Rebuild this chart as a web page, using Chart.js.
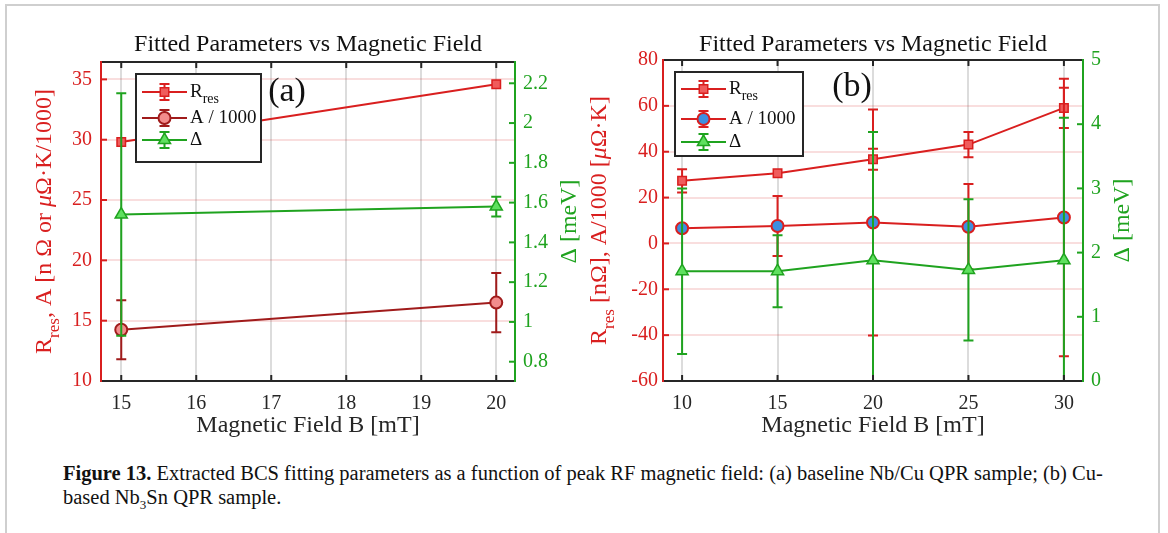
<!DOCTYPE html>
<html>
<head>
<meta charset="utf-8">
<script src="https://cdn.jsdelivr.net/npm/chart.js@4.4.1/dist/chart.umd.min.js"></script>
<style>
  body { margin: 0; background: #fff; width: 1168px; height: 533px; overflow: hidden; position: relative; font-family: "Liberation Serif", serif; }
  .frame { position: absolute; left: 5px; top: 4px; width: 1151px; height: 600px; border: 2px solid #cfcfcf; }
  .panel { position: absolute; top: 0; }
  #panelA { left: 0; }
  #panelB { left: 580px; }
  .caption { position: absolute; left: 63px; top: 461px; font-size: 20.5px; line-height: 24px; color: #111; white-space: nowrap; }
  .caption sub { font-size: 13px; line-height: 0; }
</style>
</head>
<body>
<div class="frame"></div>
<canvas id="panelA" class="panel" width="600" height="445"></canvas>
<canvas id="panelB" class="panel" width="588" height="445"></canvas>
<div class="caption"><b>Figure 13.</b> Extracted BCS fitting parameters as a function of peak RF magnetic field: (a) baseline Nb/Cu QPR sample; (b) Cu-<br>based Nb<sub>3</sub>Sn QPR sample.</div>
<script>
// ---- data ----
// (a) baseline Nb/Cu
const fieldA = [15, 20];
const rresA = [29.8, 34.6];
const rresErrA = [0, 0];
const ampA = [14.25, 16.5];
const ampErrA = [2.45, 2.45];
const gapA = [1.54, 1.58];
const gapErrA = [0.61, 0.05];
const xTicksA = [15, 16, 17, 18, 19, 20];
const yTicksA = [10, 15, 20, 25, 30, 35];
const y2TicksA = [0.8, 1.0, 1.2, 1.4, 1.6, 1.8, 2.0, 2.2];

// (b) Cu-based Nb3Sn
const fieldB = [10, 15, 20, 25, 30];
const rresB = [27.3, 30.6, 36.7, 43.1, 59.1];
const rresErrB = [5.1, 0, 4.6, 5.5, 8.8];
const ampB = [6.6, 7.6, 9.1, 7.3, 11.3];
const ampErrB = [0, 13.1, 49.3, 18.6, 60.5];
const gapB = [1.71, 1.71, 1.88, 1.73, 1.88];
const gapErrB = [1.29, 0.56, 2.0, 1.1, 2.22];
const xTicksB = [10, 15, 20, 25, 30];
const yTicksB = [-60, -40, -20, 0, 20, 40, 60, 80];
const y2TicksB = [0, 1, 2, 3, 4, 5];

const RED = '#d91f1f';
const DARKRED = '#a01b1b';
const GREEN = '#1fa31f';
const INK = '#262626';
const FONT = '"Liberation Serif", "Times New Roman", serif';

function pts(xs, ys) {
    return xs.map((x, i) => ({ x: x, y: ys[i] }));
}

// draws text made of pieces (subscripts, italics), centred or left aligned
function drawRich(ctx, parts, x, y, size, color, rotate, align) {
    ctx.save();
    ctx.translate(x, y);
    if (rotate) ctx.rotate(-Math.PI / 2);
    const fontFor = p => (p.italic ? 'italic ' : '') + Math.round(p.sub ? size * 0.72 : size) + 'px ' + FONT;
    let total = 0;
    parts.forEach(p => { ctx.font = fontFor(p); total += ctx.measureText(p.t).width; });
    let cx = align === 'left' ? 0 : -total / 2;
    ctx.fillStyle = color;
    ctx.textBaseline = 'middle';
    ctx.textAlign = 'left';
    parts.forEach(p => {
        ctx.font = fontFor(p);
        ctx.fillText(p.t, cx, p.sub ? size * 0.38 : 0);
        cx += ctx.measureText(p.t).width;
    });
    ctx.restore();
}

// error bars, drawn under each series
const errorBars = {
    id: 'errorBars',
    beforeDatasetDraw(chart, args) {
        const ds = chart.data.datasets[args.index];
        if (!ds.errors) return;
        const yScale = chart.scales[ds.yAxisID];
        const area = chart.chartArea;
        const ctx = chart.ctx;
        ctx.save();
        ctx.beginPath();
        ctx.rect(area.left, area.top, area.right - area.left, area.bottom - area.top);
        ctx.clip();
        ctx.strokeStyle = ds.borderColor;
        ctx.lineWidth = 2;
        args.meta.data.forEach((pt, i) => {
            const e = ds.errors[i];
            if (!e) return;
            const v = ds.data[i].y;
            const yt = yScale.getPixelForValue(v + e);
            const yb = yScale.getPixelForValue(v - e);
            ctx.beginPath();
            ctx.moveTo(pt.x, yt); ctx.lineTo(pt.x, yb);
            ctx.moveTo(pt.x - 5, yt); ctx.lineTo(pt.x + 5, yt);
            ctx.moveTo(pt.x - 5, yb); ctx.lineTo(pt.x + 5, yb);
            ctx.stroke();
        });
        ctx.restore();
    }
};

// axes box, inward ticks, axis titles, legend and panel label
const decor = {
    id: 'decor',
    afterDraw(chart, args, opts) {
        const ctx = chart.ctx;
        const a = chart.chartArea;
        const sx = chart.scales.x, sy = chart.scales.y, sy2 = chart.scales.y2;
        ctx.save();
        ctx.lineWidth = 2;
        // ticks
        ctx.strokeStyle = INK;
        sx.ticks.forEach(t => {
            const px = sx.getPixelForValue(t.value);
            ctx.beginPath();
            ctx.moveTo(px, a.bottom); ctx.lineTo(px, a.bottom - 6);
            ctx.moveTo(px, a.top); ctx.lineTo(px, a.top + 6);
            ctx.stroke();
        });
        ctx.strokeStyle = RED;
        sy.ticks.forEach(t => {
            const py = sy.getPixelForValue(t.value);
            ctx.beginPath(); ctx.moveTo(a.left, py); ctx.lineTo(a.left + 6, py); ctx.stroke();
        });
        ctx.strokeStyle = GREEN;
        sy2.ticks.forEach(t => {
            const py = sy2.getPixelForValue(t.value);
            ctx.beginPath(); ctx.moveTo(a.right, py); ctx.lineTo(a.right - 6, py); ctx.stroke();
        });
        // frame
        ctx.strokeStyle = INK;
        ctx.beginPath();
        ctx.moveTo(a.left, a.top); ctx.lineTo(a.right, a.top);
        ctx.moveTo(a.left, a.bottom); ctx.lineTo(a.right, a.bottom);
        ctx.stroke();
        ctx.strokeStyle = RED;
        ctx.beginPath(); ctx.moveTo(a.left, a.top - 1); ctx.lineTo(a.left, a.bottom + 1); ctx.stroke();
        ctx.strokeStyle = GREEN;
        ctx.beginPath(); ctx.moveTo(a.right, a.top - 1); ctx.lineTo(a.right, a.bottom + 1); ctx.stroke();

        // axis titles
        const midY = (a.top + a.bottom) / 2;
        drawRich(ctx, opts.leftTitle, a.left - opts.leftTitleGap, midY, 24, RED, true);
        drawRich(ctx, [{ t: 'Δ [meV]' }], a.right + opts.rightTitleGap, midY, 24, GREEN, true);

        // legend
        const lg = opts.legend;
        const bx = a.left + lg.x, by = a.top + lg.y;
        ctx.fillStyle = '#fff';
        ctx.fillRect(bx, by, lg.w, lg.h);
        ctx.strokeStyle = INK;
        ctx.strokeRect(bx, by, lg.w, lg.h);
        chart.data.datasets.forEach((ds, i) => {
            const ry = by + lg.rows[i];
            const x0 = bx + 6, x1 = bx + 51, xm = (x0 + x1) / 2;
            ctx.strokeStyle = ds.borderColor;
            ctx.lineWidth = 2;
            ctx.beginPath();
            ctx.moveTo(x0, ry); ctx.lineTo(x1, ry);
            ctx.moveTo(xm, ry - 8); ctx.lineTo(xm, ry + 8);
            ctx.moveTo(xm - 5, ry - 8); ctx.lineTo(xm + 5, ry - 8);
            ctx.moveTo(xm - 5, ry + 8); ctx.lineTo(xm + 5, ry + 8);
            ctx.stroke();
            ctx.fillStyle = ds.pointBackgroundColor;
            ctx.lineWidth = ds.pointBorderWidth;
            Chart.helpers.drawPoint(ctx, { pointStyle: ds.pointStyle, radius: ds.pointRadius, rotation: 0, borderWidth: ds.pointBorderWidth }, xm, ry);
            drawRich(ctx, ds.legendText, x1 + 3, ry, 19, '#111', false, 'left');
        });

        // panel label
        ctx.fillStyle = '#111';
        ctx.font = '34px ' + FONT;
        ctx.textAlign = 'center';
        ctx.textBaseline = 'middle';
        ctx.fillText(opts.label, a.left + opts.labelX, a.top + opts.labelY);
        ctx.restore();
    }
};

function makeChart(id, cfg) {
    const datasets = [
        {
            label: 'R_res', legendText: [{ t: 'R' }, { t: 'res', sub: true }],
            data: pts(cfg.field, cfg.rres), errors: cfg.rresErr, yAxisID: 'y', order: 3,
            borderColor: RED, pointBackgroundColor: '#f05c5c', pointBorderColor: RED,
            pointStyle: 'rect', pointRadius: 6, pointBorderWidth: 1.5
        },
        {
            label: 'A / 1000', legendText: [{ t: 'A / 1000' }],
            data: pts(cfg.field, cfg.amp), errors: cfg.ampErr, yAxisID: 'y', order: 2,
            borderColor: cfg.ampColor, pointBackgroundColor: cfg.ampFill, pointBorderColor: cfg.ampColor,
            pointStyle: 'circle', pointRadius: 6, pointBorderWidth: 2
        },
        {
            label: 'Δ', legendText: [{ t: 'Δ' }],
            data: pts(cfg.field, cfg.gap), errors: cfg.gapErr, yAxisID: 'y2', order: 1,
            borderColor: GREEN, pointBackgroundColor: '#5fe05f', pointBorderColor: GREEN,
            pointStyle: 'triangle', pointRadius: 7, pointBorderWidth: 1.5
        }
    ];
    datasets.forEach(d => { d.borderWidth = 2; d.fill = false; d.tension = 0; d.showLine = true; });

    return new Chart(document.getElementById(id), {
        type: 'line',
        data: { datasets: datasets },
        plugins: [errorBars, decor],
        options: {
            responsive: false,
            animation: false,
            layout: { padding: 0 },
            plugins: {
                legend: { display: false },
                tooltip: { enabled: false },
                title: {
                    display: true, fullSize: false,
                    text: 'Fitted Parameters vs Magnetic Field',
                    color: '#111', font: { family: FONT, size: 24, weight: 'normal' },
                    padding: { top: 30, bottom: cfg.top - 30 - 28.8 }
                },
                decor: cfg.decor
            },
            scales: {
                x: {
                    type: 'linear', min: cfg.xRange[0], max: cfg.xRange[1],
                    afterBuildTicks: s => { s.ticks = cfg.xTicks.map(v => ({ value: v })); },
                    afterFit: s => { s.height = 445 - cfg.bottom; },
                    ticks: { color: INK, font: { family: FONT, size: 20 }, padding: 11 },
                    grid: { color: '#dcdcdc', lineWidth: 2, drawTicks: false },
                    border: { display: false },
                    title: { display: true, text: 'Magnetic Field B [mT]', color: INK, font: { family: FONT, size: 24 }, padding: { top: 0, bottom: 5 } }
                },
                y: {
                    type: 'linear', position: 'left', min: cfg.yRange[0], max: cfg.yRange[1],
                    afterBuildTicks: s => { s.ticks = cfg.yTicks.map(v => ({ value: v })); },
                    afterFit: s => { s.width = cfg.leftW; },
                    ticks: { color: RED, font: { family: FONT, size: 20 }, padding: cfg.leftPad },
                    grid: { color: 'rgba(217,31,31,0.15)', lineWidth: 2, drawTicks: false },
                    border: { display: false }
                },
                y2: {
                    type: 'linear', position: 'right', min: cfg.y2Range[0], max: cfg.y2Range[1],
                    afterBuildTicks: s => { s.ticks = cfg.y2Ticks.map(v => ({ value: v })); },
                    afterFit: s => { s.width = cfg.rightW; },
                    ticks: { color: GREEN, font: { family: FONT, size: 20 }, padding: 8, callback: v => String(+v.toFixed(1)) },
                    grid: { display: false, drawTicks: false },
                    border: { display: false }
                }
            }
        }
    });
}

makeChart('panelA', {
    field: fieldA, rres: rresA, rresErr: rresErrA, amp: ampA, ampErr: ampErrA, gap: gapA, gapErr: gapErrA,
    ampColor: DARKRED, ampFill: '#f28c8c',
    xTicks: xTicksA, yTicks: yTicksA, y2Ticks: y2TicksA,
    xRange: [14.73, 20.25], yRange: [10, 36.44], y2Range: [0.703, 2.307],
    top: 62, bottom: 381, leftW: 101, rightW: 85, leftPad: 9,
    decor: {
        leftTitle: [{ t: 'R' }, { t: 'res', sub: true }, { t: ', A [n Ω or ' }, { t: 'μ', italic: true }, { t: 'Ω·K/1000]' }],
        leftTitleGap: 56, rightTitleGap: 55,
        legend: { x: 35, y: 12, w: 125, h: 88, rows: [18, 44, 66] },
        label: '(a)', labelX: 186, labelY: 30
    }
});

makeChart('panelB', {
    field: fieldB, rres: rresB, rresErr: rresErrB, amp: ampB, ampErr: ampErrB, gap: gapB, gapErr: gapErrB,
    ampColor: RED, ampFill: '#3d8fe0',
    xTicks: xTicksB, yTicks: yTicksB, y2Ticks: y2TicksB,
    xRange: [9, 31], yRange: [-60, 80], y2Range: [0, 5],
    top: 60, bottom: 381, leftW: 83, rightW: 85, leftPad: 5,
    decor: {
        leftTitle: [{ t: 'R' }, { t: 'res', sub: true }, { t: ' [nΩ], A/1000 [' }, { t: 'μ', italic: true }, { t: 'Ω·K]' }],
        leftTitleGap: 63, rightTitleGap: 40,
        legend: { x: 12, y: 12, w: 128, h: 84, rows: [17, 47, 70] },
        label: '(b)', labelX: 189, labelY: 27
    }
});
</script>
</body>
</html>
